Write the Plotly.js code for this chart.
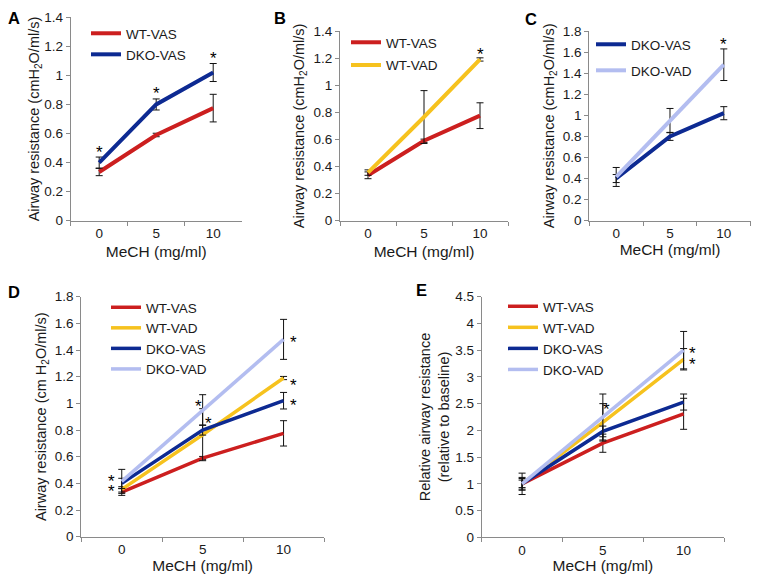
<!DOCTYPE html>
<html>
<head>
<meta charset="utf-8">
<script src="https://cdn.plot.ly/plotly-3.0.1.min.js"></script>
<style>html,body{margin:0;padding:0;background:#fff;}#chart{width:757px;height:583px;}</style>
</head>
<body>
<div id="chart"></div>
<script>
// ---- data ----
const doses = ["0", "5", "10"];
const wtVas = [0.335, 0.59, 0.775];
const wtVasErr = [0.025, 0.012, 0.095];
const wtVad = [0.355, 0.765, 1.19];
const wtVadErr = [0.02, 0.195, 0.012];
const dkoVas = [0.40, 0.80, 1.02];
const dkoVasErr = [0.038, 0.038, 0.062];
const dkoVad = [0.415, 0.95, 1.48];
const dkoVadErr = [0.09, 0.115, 0.15];

const relWtVas = [1, 1.76, 2.31];
const relWtVasErr = [0.2, 0.17, 0.29];
const relWtVad = [1, 2.15, 3.33];
const relWtVadErr = [0.07, 0.35, 0.2];
const relDkoVas = [1, 1.98, 2.53];
const relDkoVasErr = [0.1, 0.1, 0.15];
const relDkoVad = [1, 2.25, 3.5];
const relDkoVadErr = [0.12, 0.43, 0.35];

const names = ["WT-VAS", "WT-VAD", "DKO-VAS", "DKO-VAD"];
const colors = {"WT-VAS": "#cc1f1f", "WT-VAD": "#f6c21e", "DKO-VAS": "#0d2a92", "DKO-VAD": "#b3bdf0"};
const panelLetters = ["A", "B", "C", "D", "E"];

const W = 757, H = 583;
const FONT = "Liberation Sans, Arial, Helvetica, sans-serif";

function trace(name, y, err, ax, legend, lw) {
  return {
    type: "scatter", mode: "lines", name: name, x: doses, y: y,
    xaxis: "x" + (ax === 1 ? "" : ax), yaxis: "y" + (ax === 1 ? "" : ax),
    legend: legend, legendgroup: legend + name,
    line: {color: colors[name], width: lw},
    error_y: {type: "data", array: err, visible: true, color: "#111", thickness: 1, width: 3.5},
    hoverinfo: "skip"
  };
}

const traces = [
  trace("WT-VAS", wtVas, wtVasErr, 1, "legend", 4),
  trace("DKO-VAS", dkoVas, dkoVasErr, 1, "legend", 4),
  trace("WT-VAS", wtVas, wtVasErr, 2, "legend2", 4),
  trace("WT-VAD", wtVad, wtVadErr, 2, "legend2", 4),
  trace("DKO-VAS", dkoVas, dkoVasErr, 3, "legend3", 4),
  trace("DKO-VAD", dkoVad, dkoVadErr, 3, "legend3", 4),
  trace("WT-VAS", wtVas, wtVasErr, 4, "legend4", 3.5),
  trace("WT-VAD", wtVad, wtVadErr, 4, "legend4", 3.5),
  trace("DKO-VAS", dkoVas, dkoVasErr, 4, "legend4", 3.5),
  trace("DKO-VAD", dkoVad, dkoVadErr, 4, "legend4", 3.5),
  trace("WT-VAS", relWtVas, relWtVasErr, 5, "legend5", 3.5),
  trace("WT-VAD", relWtVad, relWtVadErr, 5, "legend5", 3.5),
  trace("DKO-VAS", relDkoVas, relDkoVasErr, 5, "legend5", 3.5),
  trace("DKO-VAD", relDkoVad, relDkoVadErr, 5, "legend5", 3.5)
];

// panel boxes in pixels: [left, right, top, bottom]
const boxes = [
  [70.7, 241.7, 17.3, 220.7],
  [340, 508, 31, 220.7],
  [589.3, 750.7, 31, 220.7],
  [81.3, 324, 296.7, 536.7],
  [481.7, 724, 296.7, 537.3]
];
const yRanges = [[0, 1.4], [0, 1.4], [0, 1.8], [0, 1.8], [0, 4.5]];
const yDticks = [0.2, 0.2, 0.2, 0.2, 0.5];
const yTitles = [
  "Airway resistance (cmH<sub>2</sub>O/ml/s)",
  "Airway resistance (cmH<sub>2</sub>O/ml/s)",
  "Airway resistance (cmH<sub>2</sub>O/ml/s)",
  "Airway resistance (cm H<sub>2</sub>O/ml/s)",
  "Relative airway resistance<br>(relative to baseline)"
];
const yStandoff = [1, 5, 4, 4, 2];
const xStandoff = [6, 6, 4, 4, 3];

const layout = {
  width: W, height: H,
  margin: {l: 0, r: 0, t: 0, b: 0},
  paper_bgcolor: "#fff", plot_bgcolor: "#fff",
  font: {family: FONT, size: 13, color: "#1a1a1a"},
  showlegend: true,
  annotations: [],
  shapes: []
};

boxes.forEach((b, i) => {
  const k = i === 0 ? "" : String(i + 1);
  layout["xaxis" + k] = {
    domain: [b[0] / W, b[1] / W], anchor: "y" + k,
    type: "category", range: [-0.5, 2.5],
    showline: true, linecolor: "#8a8a8a", linewidth: 1,
    ticks: "outside", tickson: "boundaries", ticklen: 4, tickcolor: "#8a8a8a",
    showgrid: false, zeroline: false, fixedrange: true,
    tickfont: {size: 13.5, family: FONT, color: "#1a1a1a"},
    title: {text: "MeCH (mg/ml)", font: {size: 15.5, family: FONT, color: "#1a1a1a"}, standoff: xStandoff[i]}
  };
  layout["yaxis" + k] = {
    domain: [1 - b[3] / H, 1 - b[2] / H], anchor: "x" + k,
    range: yRanges[i], dtick: yDticks[i], tick0: 0,
    showline: true, linecolor: "#8a8a8a", linewidth: 1,
    ticks: "outside", ticklen: 4, tickcolor: "#8a8a8a",
    showgrid: false, zeroline: false, fixedrange: true,
    tickfont: {size: 13.5, family: FONT, color: "#1a1a1a"},
    title: {text: yTitles[i], font: {size: 14.5, family: FONT, color: "#1a1a1a"}, standoff: yStandoff[i]}
  };
});

// legends: [x px of left, y px of top, group gap]
const legendPos = [[86, 18, 0.5], [346, 27, 2.2], [591, 29, 5.5], [106, 292, 0], [503, 291, 0.5]];
["legend", "legend2", "legend3", "legend4", "legend5"].forEach((lg, i) => {
  layout[lg] = {
    x: legendPos[i][0] / W, y: 1 - legendPos[i][1] / H, xanchor: "left", yanchor: "top",
    bgcolor: "rgba(0,0,0,0)", borderwidth: 0,
    traceorder: "grouped", tracegroupgap: legendPos[i][2],
    font: {size: 13.5, family: FONT, color: "#1a1a1a"}
  };
});

// panel letters
const letterPos = [[14, 18], [280, 18], [531, 19], [14, 292], [422, 290]];
letterPos.forEach((p, i) => {
  layout.annotations.push({
    xref: "paper", yref: "paper", x: p[0] / W, y: 1 - p[1] / H,
    xanchor: "center", yanchor: "middle", showarrow: false,
    text: "<b>" + panelLetters[i] + "</b>", font: {size: 16.5, family: FONT, color: "#000"}
  });
});

// significance asterisks (category axes take the category index)
function star(ax, idx, vals, errs, dx, dyVal) {
  const k = ax === 1 ? "" : String(ax);
  layout.annotations.push({
    xref: "x" + k, yref: "y" + k, x: idx, y: vals[idx] + dyVal,
    xshift: dx, yshift: -3, xanchor: "center", yanchor: "middle", showarrow: false,
    text: "*", font: {size: 17, family: FONT, color: "#000"}
  });
}
// A: above DKO-VAS bars
[0, 1, 2].forEach(i => star(1, i, dkoVas, dkoVasErr, 0, dkoVasErr[i] + 0.055));
// B: above WT-VAD at 10
star(2, 2, wtVad, wtVadErr, 0, wtVadErr[2] + 0.05);
// C: above DKO-VAD at 10
star(3, 2, dkoVad, dkoVadErr, 0, dkoVadErr[2] + 0.07);
// D
star(4, 2, dkoVad, dkoVadErr, 10, 0);
star(4, 2, wtVad, wtVadErr, 10, -0.03);
star(4, 2, dkoVas, dkoVasErr, 10, -0.01);
star(4, 1, dkoVad, dkoVadErr, -4, 0.05);
star(4, 1, dkoVas, dkoVasErr, 6, 0.07);
star(4, 0, dkoVas, dkoVasErr, -10, 0.035);
star(4, 0, wtVad, wtVadErr, -10, 0.005);
// E
star(5, 2, relDkoVad, relDkoVadErr, 9, 0);
star(5, 2, relWtVad, relWtVadErr, 9, -0.04);
star(5, 1, relDkoVad, relDkoVadErr, 4, 0.19);

Plotly.newPlot("chart", traces, layout, {staticPlot: true, displayModeBar: false});
</script>
</body>
</html>
